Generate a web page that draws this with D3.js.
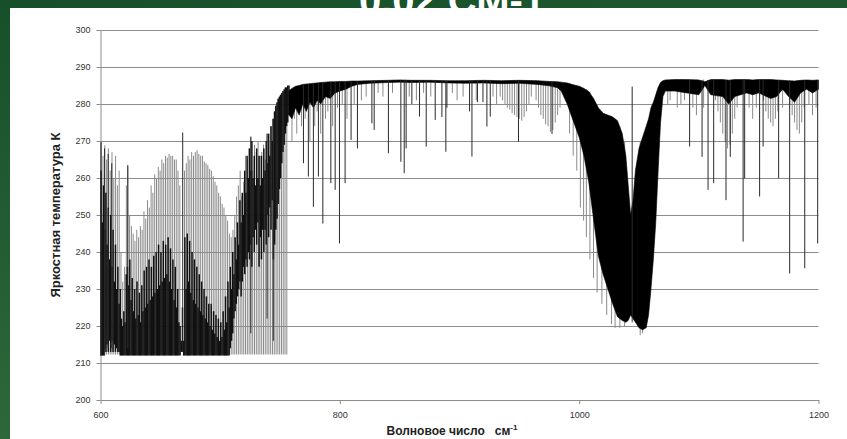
<!DOCTYPE html>
<html>
<head>
<meta charset="utf-8">
<script src="https://d3js.org/d3.v7.min.js"></script>
<style>
  body { margin: 0; background: #1d5a2e; }
  svg { display: block; }
</style>
</head>
<body>
<svg id="chart" width="847" height="439"></svg>
<script>
// axis ticks
var tempTicks = [200, 210, 220, 230, 240, 250, 260, 270, 280, 290, 300];
var waveTicks = [600, 800, 1000, 1200];
var bandFloor = 212.3;

// CO2 band comb: [wavenumber, peak temperature], each line rises from bandFloor
var combLines = [
  [600.6,269.5],[602.1,266],[603.6,268.8],[605.1,265],[606.6,268],[608.1,262],[609.6,267],[611.1,260],
  [612.6,266],[614.1,258],[615.6,262],[617.1,240],[618.6,232],[620.1,236],[621.6,258],[622.8,263],
  [624.3,250],[625.8,247],[627.3,245],[628.8,243],[630.3,246],[631.8,244],[633.3,247],[634.8,246],
  [636.3,251],[637.8,249],[639.3,254],[640.8,252],[642.3,258],[643.8,256],[645.3,261],[646.8,260],
  [648.3,263],[649.8,262],[651.3,265],[652.8,264],[654.3,266],[655.8,265.5],[657.3,266.5],[658.8,266],
  [660.3,266],[661.8,265],[663.3,265],[664.8,262],[666.3,258],[670.2,262],[671.7,264],[673.2,266],
  [674.7,265],[676.2,267],[677.7,266],[679.2,267],[680.7,267.5],[682.2,266.5],[683.7,266],[685.2,266],
  [686.7,264.5],[688.2,264],[689.7,263.5],[691.2,262.5],[692.7,262],[694.2,260.5],[695.7,259],[697.2,258],
  [698.7,256],[700.2,255],[701.7,253],[703.2,252],[704.7,250],[706.2,248.5],[707.7,245],[709.2,244],
  [710.7,246],[712.2,250],[713.7,255],[715.2,258],[716.7,262],[718.2,255],[719.7,259],[721.2,266],
  [722.7,265],[724.2,268],[725.7,271],[727.2,262],[728.7,269],[730.2,267],[731.7,270],[733.2,266],
  [734.7,267],[736.2,269],[737.7,265],[739.2,272],[740.7,270],[742.2,274],[743.7,276],[745.2,278],
  [746.7,279.5],[748.2,281],[749.7,282],[751.2,283],[752.7,283.5],[754.2,284],[755.7,284.5]
];

// dense dark strands of the CO2 band: [wavenumber, lower temp, upper temp]
var co2Dark = [
  [600.5,212,262],[601.5,212,248],[602.5,212,258],[603.5,214,246],[604.5,213,256],[605.5,215,242],
  [606.5,213,252],[607.5,216,238],[608.5,213,250],[609.5,216,236],[610.5,213,246],[611.5,215,232],
  [612.5,213,242],[613.5,214,230],[614.5,213,236],[615.5,213,226],[616.5,212,230],[617.5,212,222],
  [618.5,212,220],[619.5,212,224],[620.5,212,221],[621.5,212,234],[622.5,212,236],[623.5,212,231],
  [624.5,212,238],[625.5,212,227],[626.5,212,233],[627.5,212,224],[628.5,212,230],[629.5,212,222],
  [630.5,212,232],[631.5,212,223],[632.5,212,229],[633.5,212,221],[634.5,212,231],[635.5,212,224],
  [636.5,212,235],[637.5,212,225],[638.5,212,236],[639.5,212,226],[640.5,212,238],[641.5,212,227],
  [642.5,212,236],[643.5,212,228],[644.5,212,239],[645.5,212,229],[646.5,212,240],[647.5,212,230],
  [648.5,212,242],[649.5,212,231],[650.5,212,240],[651.5,212,232],[652.5,212,243],[653.5,212,233],
  [654.5,212,242],[655.5,212,234],[656.5,212,244],[657.5,212,232],[658.5,212,241],[659.5,212,230],
  [660.5,212,238],[661.5,212,227],[662.5,212,236],[663.5,212,225],[664.5,212,230],[665.5,212,221],
  [666.5,212,220],[667.5,213,216],[668.5,213,225],[669.5,212,216],[670.5,212,244],[671.5,212,230],
  [672.5,212,245],[673.5,212,232],[674.5,212,243],[675.5,212,229],[676.5,212,240],[677.5,212,227],
  [678.5,212,238],[679.5,212,226],[680.5,212,236],[681.5,212,225],[682.5,212,234],[683.5,212,224],
  [684.5,212,232],[685.5,212,223],[686.5,212,230],[687.5,212,222],[688.5,212,228],[689.5,212,221],
  [690.5,212,226],[691.5,212,220],[692.5,212,226],[693.5,212,219],[694.5,212,224],[695.5,212,218],
  [696.5,212,223],[697.5,212,217],[698.5,212,222],[699.5,212,216],[700.5,212,221],[701.5,212,217],
  [702.5,212,224],[703.5,212,219],[704.5,212,228],[705.5,212,221],[706.5,212,232],[707.5,212,225],
  [708.5,214,236],[709.5,216,230],[710.5,218,240],[711.5,222,234],[712.5,224,244],[713.5,226,238],
  [714.5,228,248],[715.5,230,242],[716.5,232,254],[717.5,228,248],[718.5,232,256],[719.5,236,250],
  [720.5,234,262],[721.5,238,256],[722.5,236,266],[723.5,240,260],[724.5,238,268],[725.5,242,262],
  [726.5,236,270],[727.5,244,260],[728.5,240,266],[729.5,246,258],[730.5,242,268],[731.5,248,260],
  [732.5,236,266],[733.5,244,258],[734.5,238,266],[735.5,246,260],[736.5,240,268],[737.5,246,262],
  [738.5,242,270],[739.5,250,264],[740.5,244,272],[741.5,252,266],[742.5,246,274],[743.5,254,270],
  [744.5,238,276],[745.5,242,278],[746.5,246,279.5],[747.5,249,280.5],[748.5,253,281.5],[749.5,257,282],
  [750.5,260,282.5],[751.5,264,283],[752.5,267,283.5],[753.5,269,284],[754.5,272,284.5],[755.5,274,284.5],
  [756.5,275,285],[757.5,277,285]
];

// window continuum and ozone band: [wavenumber, upper temp, lower temp]
var upperBand = [
  [757.5,283.6,277],[760,284.2,276],[763,284.8,279],[766,285,277],[769,285.3,280],[772,285.4,278],
  [775,285.5,280.5],[778,285.6,279],[781,285.7,281],[784,285.8,280],[788,285.9,282],[792,286,281.5],
  [796,286,283],[800,286.1,283.5],[805,286.1,284],[810,286.2,284.8],[815,286.2,285.3],[825,286.3,285.6],
  [840,286.4,285.8],[850,286.5,285.9],[860,286.4,285.8],[875,286.4,285.9],[890,286.3,285.7],
  [905,286.3,285.6],[920,286.4,285.7],[935,286.3,285.5],[950,286.4,285.6],[965,286.3,285.3],
  [975,286.1,284.9],[982,286,284.4],[985,285.9,283.5],[990,285.7,280],[995,285.2,275.5],
  [1000,284.8,271],[1004,284.2,266],[1008,283.4,259],[1012,281.5,249],[1016,279,239],[1020,277.5,234],
  [1024,277,230],[1028,276.5,226],[1032,275.5,222.5],[1036,272,221.5],[1039,266,221],[1041,258,221.5],
  [1043,250,223],[1045,254,222],[1047,262,221],[1050,268,219.5],[1053,271,219],[1056,274,219.5],
  [1058,276,223],[1060,279,230],[1062,280.5,238],[1064,282.5,248],[1066,284.5,262],[1068,285.8,275],
  [1070,286.3,282],[1072,286.5,283.5],[1080,286.6,283.5],[1090,286.6,283],[1100,286.5,282.5],
  [1105,286,285],[1110,286.6,282.5],[1120,286.6,282],[1125,286.4,280],[1130,286.6,282],[1140,286.6,283],
  [1145,286.5,282.5],[1150,286.6,283],[1160,286.6,281.5],[1165,286.5,282],[1170,286.4,284],
  [1175,286.3,282],[1180,286.2,280.5],[1185,286.4,283],[1190,286.5,284],[1195,286.4,283],[1200,286.5,284]
];

// strong single lines: [wavenumber, temp from, temp to]
var strongLines = [
  [600.4,212,269.8],[603.4,212,268],[606.4,214,266.5],[609.4,214,264],[622.8,214,263.5],
  [668.7,213,272.3],[725.6,218,271.2],[739.2,222,272],[744.4,216,276],
  [769.6,285.3,264],[773.7,285.4,260.4],[777.9,285.5,252.2],[782.1,285.7,260.4],[785.8,285.8,247.7],
  [792.5,286,258.6],[796.1,286,256.8],[799.7,286.1,242.3],[804.4,286.1,258.6],[809.4,286.2,270.3],
  [814.7,286.2,268],[826.8,286.3,274.8],[828.7,286.3,273],[840.6,286.4,266.7],[851,286.5,264.4],
  [853.8,286.5,261.3],[855.4,286.5,268],[860.2,286.4,280],[866.6,286.4,276.6],[872.2,286.4,268.5],
  [879.7,286.4,275.7],[885.3,286.3,276.5],[888.6,286.3,267.1],[889.5,286.3,279],[908.4,286.3,278],
  [910.4,286.3,265.8],[915,286.3,280.5],[919.6,286.4,280.5],[922.9,286.4,273.9],[925.7,286.4,276.6],
  [949.3,286.4,269.8],[977.3,286.1,271.9],
  [1044.3,221,284.7],
  [1092.3,286.5,268.5],[1102.7,286.5,265.7],[1107.7,286.5,256.8],[1112.4,286.5,258.6],
  [1122.7,286.5,254],[1126.3,286.5,265.7],[1137,286.5,242.8],[1138.3,286.5,259.9],[1150.8,286.5,255],
  [1153.7,286.5,268.5],[1166.7,286.5,259.9],[1175.9,286.3,234.2],[1188.5,286.4,235.6],[1199.3,286.5,242.3]
];

// weak lines (grey): [wavenumber, temp from, temp to]
var weakLines = [
  [760,284.2,270],[762,284.6,276],[764,284.8,272],[766,285,278],[768,285.2,274],[771,285.3,276],
  [775,285.5,270],[779,285.6,274],[781,285.7,278],[784,285.8,272],[788,285.9,276],[790,286,278],
  [794,286,274],[798,286,279],[802,286.1,280],[806,286.1,276],[812,286.2,280],[818,286.2,281],
  [822,286.3,282],[832,286.3,283],[836,286.4,282],[844,286.4,283],[858,286.4,282],[864,286.4,281],
  [870,286.4,283],[876,286.4,282],[894,286.3,283],[898,286.3,281],[903,286.3,282],[914,286.3,281],
  [928,286.4,282],[931,286.3,280],
  [934,286.3,282],[936,286.3,281],[938,286.3,280],[940,286.3,279],[942,286.3,278.5],[944,286.3,277.5],
  [946,286.4,277],[948,286.4,276.5],[950,286.4,276],[952,286.4,275.5],[954,286.4,276.5],[956,286.4,278],
  [958,286.4,280],[960,286.4,282],
  [964,286.3,281],[966,286.3,279],[968,286.2,277],[970,286.2,276],[972,286.2,274.5],[974,286.2,274],
  [976,286.1,272.5],[978,286.1,273],[980,286.1,275],[982,286,277],[984,285.9,279],
  [992,285.6,272],[995,285.2,266],[998,285,262],[1001,284.8,252],[1003.7,284.4,248.5],[1006,284,244],
  [1009,283.3,238],[1012,281.5,233],[1015,279.5,229],[1019,278,226],[1023,277,223],[1027,276.8,220.5],
  [1030,276,219.5],[1034,274,219.5],[1038,270,220],[1051,270,217.5],[1053,271,218],
  [1074,286.5,280],[1076,286.5,281],[1082,286.6,279],[1085,286.6,280],[1088,286.6,281],[1095,286.6,279],
  [1098,286.6,277],[1104,286.6,279],[1114,286.6,281],[1116,286.6,278],
  [1118,286.6,275],[1120,286.6,272],[1122,286.6,270],[1124,286.6,268],[1126,286.6,269],[1128,286.6,272],
  [1130,286.6,276],[1132,286.6,279],[1142,286.6,279],[1145,286.5,276],[1148,286.6,279],[1154,286.6,281],
  [1156,286.6,278],[1158,286.6,276],[1160,286.6,275],[1162,286.6,274],[1164,286.5,276],[1166,286.5,278],
  [1170,286.4,279],[1176,286.3,280],[1178,286.3,277],[1180,286.2,275],[1182,286.3,273],[1184,286.4,272],
  [1186,286.4,275],[1188,286.4,279],[1192,286.5,280],[1195,286.4,277],[1198,286.5,279]
];

var svg = d3.select("#chart");
var font = "'Liberation Sans', Arial, sans-serif";

// green slide background
var grad = svg.append("defs").append("linearGradient")
    .attr("id", "bg").attr("x1", 0).attr("y1", 0).attr("x2", 0.3).attr("y2", 1);
grad.append("stop").attr("offset", 0).attr("stop-color", "#16502a");
grad.append("stop").attr("offset", 1).attr("stop-color", "#2f6a3b");
svg.append("rect").attr("width", 847).attr("height", 439).attr("fill", "url(#bg)");

svg.append("text")
    .attr("x", 452).attr("y", 14)
    .attr("text-anchor", "middle")
    .attr("font-family", font).attr("font-weight", "bold").attr("font-size", 40)
    .attr("fill", "#fff")
    .text("0.02 СМ-1");

svg.append("rect").attr("x", 10).attr("y", 8).attr("width", 837).attr("height", 431).attr("fill", "#fff");

var x = d3.scaleLinear().domain([600, 1200]).range([100.5, 818.5]);
var y = d3.scaleLinear().domain([200, 300]).range([400, 30]);

// grid
svg.append("g").selectAll("line")
    .data(tempTicks.slice(1))
    .join("line")
    .attr("x1", x(600)).attr("x2", x(1200))
    .attr("y1", function(d){ return Math.round(y(d)) + 0.5; })
    .attr("y2", function(d){ return Math.round(y(d)) + 0.5; })
    .attr("stroke", "#8c8c8c").attr("stroke-width", 1);

// axes
var gy = svg.append("g")
    .attr("transform", "translate(" + x(600) + ",0)")
    .call(d3.axisLeft(y).tickValues(tempTicks).tickFormat(d3.format("d"))
      .tickSize(4).tickSizeOuter(0).tickPadding(6));
var gx = svg.append("g")
    .attr("transform", "translate(0," + y(200) + ")")
    .call(d3.axisBottom(x).tickValues(waveTicks).tickFormat(d3.format("d"))
      .tickSize(4).tickSizeOuter(0).tickPadding(8));
[gx, gy].forEach(function(g){
  g.selectAll("path, line").attr("stroke", "#8c8c8c");
  g.selectAll("text").attr("font-family", font).attr("font-size", 9).attr("fill", "#333");
});

function vline(sel, color, w){
  sel.attr("x1", function(d){ return x(d[0]); }).attr("x2", function(d){ return x(d[0]); })
     .attr("y1", function(d){ return y(d[1]); }).attr("y2", function(d){ return y(d[2]); })
     .attr("stroke", color).attr("stroke-width", w || 1);
}

// spectrum
svg.append("g").selectAll("line")
    .data(combLines)
    .join("line")
    .attr("x1", function(d){ return x(d[0]); }).attr("x2", function(d){ return x(d[0]); })
    .attr("y1", y(bandFloor)).attr("y2", function(d){ return y(d[1]); })
    .attr("stroke", "#8a8a8a").attr("stroke-width", 1);

svg.append("g").selectAll("line").data(co2Dark).join("line").call(vline, "#111", 1.5);

svg.append("g").selectAll("line").data(weakLines).join("line").call(vline, "#8a8a8a");

var band = d3.area()
    .x(function(d){ return x(d[0]); })
    .y0(function(d){ return y(d[1]); })
    .y1(function(d){ return y(d[2]); });

svg.append("path").datum(upperBand).attr("d", band)
    .attr("fill", "#000").attr("stroke", "#000").attr("stroke-width", 0.6);

svg.append("g").selectAll("line").data(strongLines).join("line").call(vline, "#2a2a2a");

// axis titles
svg.append("text")
    .attr("transform", "translate(60,215) rotate(-90)")
    .attr("text-anchor", "middle")
    .attr("font-family", font).attr("font-weight", "bold").attr("font-size", 13)
    .attr("fill", "#222")
    .text("Яркостная температура К");

var xt = svg.append("text")
    .attr("x", 452).attr("y", 435)
    .attr("text-anchor", "middle")
    .attr("font-family", font).attr("font-weight", "bold").attr("font-size", 12)
    .attr("fill", "#222");
xt.append("tspan").text("Волновое число\u00a0\u00a0\u00a0см");
xt.append("tspan").attr("dy", -5).attr("font-size", 8).text("-1");
</script>
</body>
</html>
